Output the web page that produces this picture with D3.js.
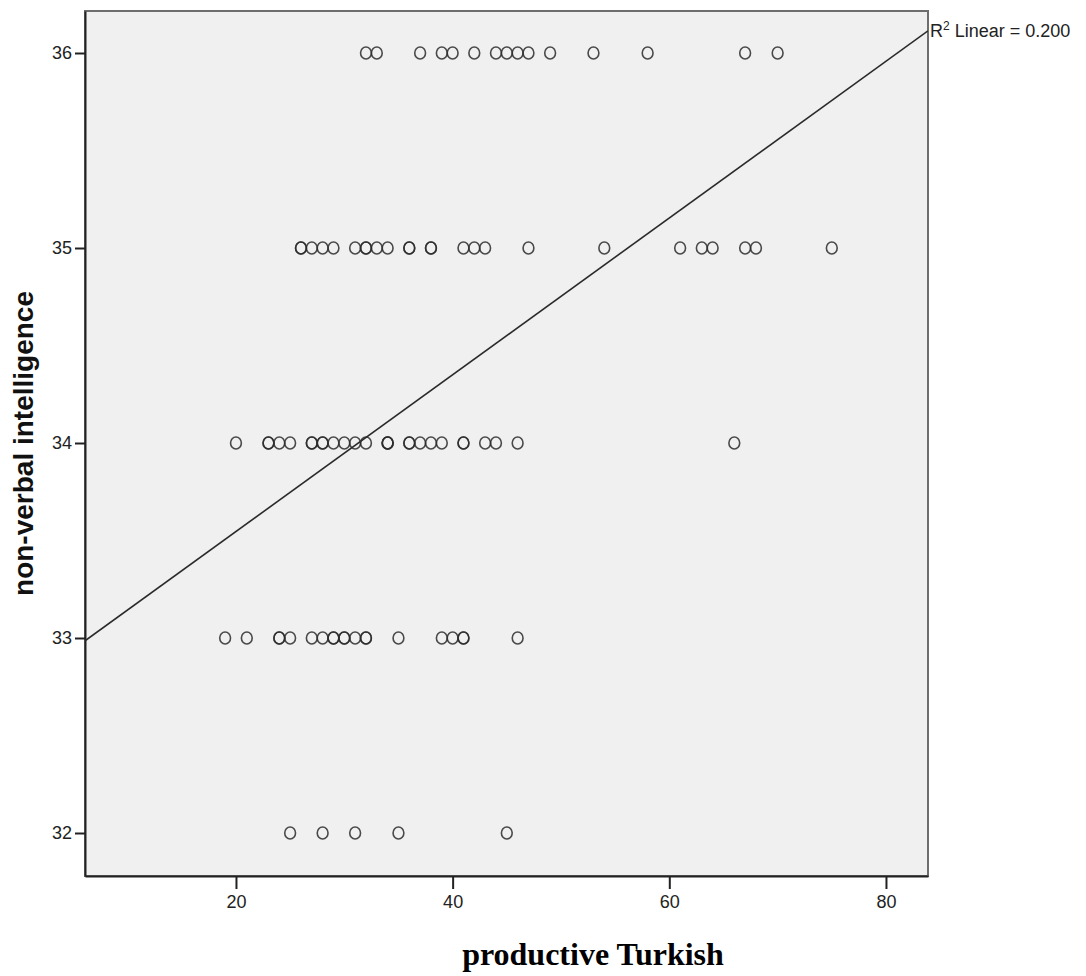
<!DOCTYPE html>
<html>
<head>
<meta charset="utf-8">
<script src="https://cdn.jsdelivr.net/npm/d3@7"></script>
<style>
  html, body { margin: 0; padding: 0; background: #fff; }
  svg { display: block; }
</style>
</head>
<body>
<svg id="chart" width="1086" height="976"></svg>
<script>
// ---- data ----
const xTicks = [20, 40, 60, 80];
const yTicks = [32, 33, 34, 35, 36];
const row36 = [32, 33, 37, 39, 40, 42, 44, 45, 46, 47, 49, 53, 58, 67, 70];
const row35 = [26, 26, 27, 28, 29, 31, 32, 32, 33, 34, 36, 36, 38, 38, 41, 42, 43, 47, 54, 61, 63, 64, 67, 68, 75];
const row34 = [20, 23, 23, 24, 25, 27, 27, 28, 28, 29, 30, 31, 32, 34, 34, 34, 36, 36, 37, 38, 39, 41, 41, 43, 44, 46, 66];
const row33 = [19, 21, 24, 24, 25, 27, 28, 29, 29, 30, 30, 31, 32, 32, 35, 39, 40, 41, 41, 46];
const row32 = [25, 28, 31, 35, 45];
const fitIntercept = 32.742;
const fitSlope = 0.0402;
const r2Text = "0.200";
const xTitle = "productive Turkish";
const yTitle = "non-verbal intelligence";

const points = [];
[[36, row36], [35, row35], [34, row34], [33, row33], [32, row32]].forEach(([y, xs]) => {
  xs.forEach(x => points.push({x, y}));
});

// ---- layout ----
const svg = d3.select("#chart");
const L = 85, R = 928, T = 11, B = 876;
const x = d3.scaleLinear().domain([6.065, 83.88]).range([L, R]);
const y = d3.scaleLinear().domain([31.7795, 36.2154]).range([B, T]);

// plot background
svg.append("rect")
  .attr("x", L).attr("y", T).attr("width", R - L).attr("height", B - T)
  .attr("fill", "#f0f0f0")
  .attr("stroke", "#6e6e6e").attr("stroke-width", 2);

// axes
const xAxis = svg.append("g").attr("transform", `translate(0,${B})`)
  .call(d3.axisBottom(x).tickValues(xTicks).tickSize(13).tickSizeOuter(0).tickPadding(6).tickFormat(d3.format("d")));
const yAxis = svg.append("g").attr("transform", `translate(${L},0)`)
  .call(d3.axisLeft(y).tickValues(yTicks).tickSize(10).tickSizeOuter(0).tickPadding(3).tickFormat(d3.format("d")));
[xAxis, yAxis].forEach(g => {
  g.select(".domain").attr("stroke", "#222").attr("stroke-width", 2);
  g.selectAll(".tick line").attr("stroke", "#222").attr("stroke-width", 2);
  g.selectAll(".tick text").attr("fill", "#222")
    .style("font-family", "'Liberation Sans', Arial, sans-serif").style("font-size", "18px");
});

// clip for regression line
svg.append("clipPath").attr("id", "plotclip")
  .append("rect").attr("x", L).attr("y", T).attr("width", R - L).attr("height", B - T);

// regression line
const [x0, x1] = x.domain();
svg.append("line")
  .attr("clip-path", "url(#plotclip)")
  .attr("x1", x(x0)).attr("y1", y(fitIntercept + fitSlope * x0))
  .attr("x2", x(x1)).attr("y2", y(fitIntercept + fitSlope * x1))
  .attr("stroke", "#2a2a2a").attr("stroke-width", 1.6);

// points
svg.append("g").selectAll("ellipse").data(points).join("ellipse")
  .attr("cx", d => x(d.x)).attr("cy", d => y(d.y))
  .attr("rx", 5.4).attr("ry", 6)
  .attr("fill", "none").attr("stroke", "#2b2b2b").attr("stroke-width", 1.6)
  .attr("stroke-opacity", 0.85);

// R2 label
const r2 = svg.append("text")
  .attr("x", R + 2).attr("y", y(fitIntercept + fitSlope * x1) + 6)
  .style("font-family", "'Liberation Sans', Arial, sans-serif").style("font-size", "18px")
  .attr("fill", "#222");
r2.append("tspan").text("R");
r2.append("tspan").attr("dy", -7).style("font-size", "12px").text("2");
r2.append("tspan").attr("dy", 7).text(" Linear = " + r2Text);

// axis titles
svg.append("text")
  .attr("x", 593).attr("y", 965)
  .attr("text-anchor", "middle")
  .style("font-family", "'Liberation Serif', 'Times New Roman', serif")
  .style("font-size", "32px").style("font-weight", "bold")
  .attr("fill", "#000")
  .text(xTitle);

svg.append("text")
  .attr("transform", `translate(33,${(T + B) / 2}) rotate(-90)`)
  .attr("text-anchor", "middle")
  .style("font-family", "'Liberation Sans', Arial, sans-serif")
  .style("font-size", "28px").style("font-weight", "bold")
  .attr("fill", "#111")
  .text(yTitle);
</script>
</body>
</html>
